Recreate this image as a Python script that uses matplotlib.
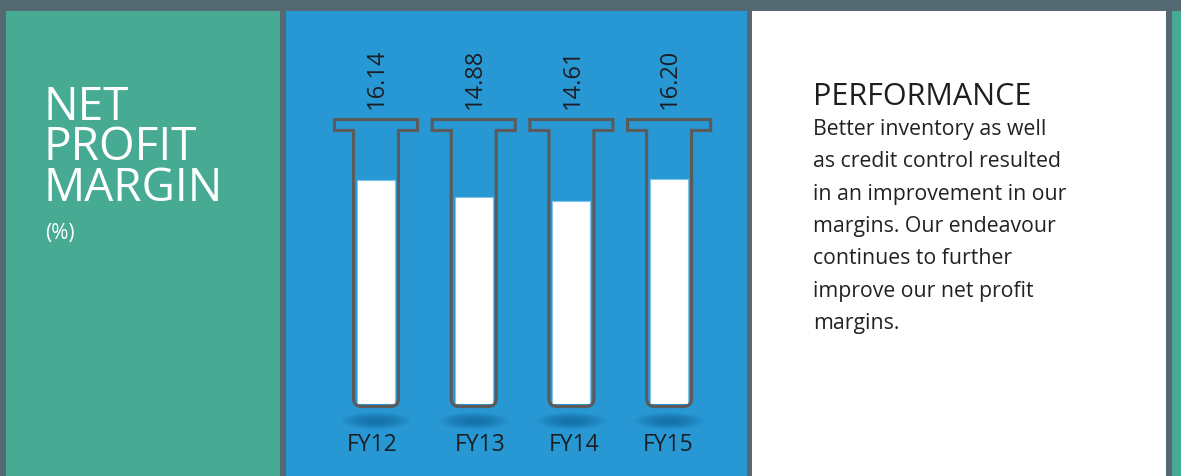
import matplotlib
matplotlib.use("Agg")
import matplotlib.pyplot as plt
from matplotlib.patches import Rectangle, Ellipse, PathPatch
from matplotlib.path import Path

# ---- data ----
categories = ["FY12", "FY13", "FY14", "FY15"]
values = [16.14, 14.88, 14.61, 16.20]
value_labels = ["16.14", "14.88", "14.61", "16.20"]
title_lines = ["NET", "PROFIT", "MARGIN"]
unit_label = "(%)"
heading = "PERFORMANCE"
body_lines = ["Better inventory as well",
              "as credit control resulted",
              "in an improvement in our",
              "margins. Our endeavour",
              "continues to further",
              "improve our net profit",
              "margins."]

# ---- style ----
FONT = ["Open Sans", "DejaVu Sans"]
GRAY = "#546971"
GREEN = "#47ab94"
BLUE = "#2898d5"
OUTLINE = "#5b5b5b"
TXT_DARK = "#1c1f22"

W, H = 1181, 476
fig = plt.figure(figsize=(W / 100, H / 100), dpi=100)
fig.patch.set_facecolor(GRAY)

bg = fig.add_axes([0, 0, 1, 1])
bg.set_xlim(0, W)
bg.set_ylim(H, 0)
bg.axis("off")
bg.set_zorder(0)

# panels
bg.add_patch(Rectangle((6, 11), 274, H - 11, color=GREEN, lw=0))
bg.add_patch(Rectangle((286, 11), 461, H - 11, color=BLUE, lw=0))
bg.add_patch(Rectangle((752, 11), 414, H - 11, color="white", lw=0))
bg.add_patch(Rectangle((1172, 11), 9, H - 11, color=GREEN, lw=0))

# left panel text
for i, t in enumerate(title_lines):
    bg.text(43, 120 + i * 40.5, t, color="white", fontsize=33, family=FONT,
            ha="left", va="baseline")
bg.text(45, 233, unit_label, color="white", fontsize=15, family=FONT,
        ha="left", va="center")

# right panel text
bg.text(813, 105, heading, color=TXT_DARK, fontsize=22, family=FONT,
        ha="left", va="baseline")
for i, t in enumerate(body_lines):
    bg.text(813, 135 + i * 32.3, t, color="#222222", fontsize=15.3,
            family=FONT, ha="left", va="baseline")

# ---- data axes for the tubes ----
spacing = 97.7
base_px = 404
top_px = 100
scale = 13.89
left_px = 376 - 0.5 * spacing
ax = fig.add_axes([left_px / W, (H - base_px) / H, 4 * spacing / W,
                   (base_px - top_px) / H])
ax.set_zorder(1)
ax.patch.set_alpha(0)
ax.set_xlim(-0.5, 3.5)
ax.set_ylim(0, (base_px - top_px) / scale)
ax.axis("off")

xs = list(range(len(categories)))
ax.bar(xs, values, width=0.39, color="white", edgecolor="#7fc3ea",
       linewidth=0.8, zorder=2)

fig.canvas.draw()
inv = bg.transData.inverted()


def tube_path(c):
    top, capb, bot = 119.5, 130.5, 406.5
    cw, sw, r = 41.5, 22.5, 8
    verts = [(c - sw, capb), (c - cw, capb), (c - cw, top), (c + cw, top),
             (c + cw, capb), (c + sw, capb), (c + sw, bot - r),
             (c + sw, bot), (c + sw - r, bot), (c - sw + r, bot),
             (c - sw, bot), (c - sw, bot - r), (c - sw, capb)]
    codes = [Path.MOVETO, Path.LINETO, Path.LINETO, Path.LINETO, Path.LINETO,
             Path.LINETO, Path.LINETO, Path.CURVE3, Path.CURVE3, Path.LINETO,
             Path.CURVE3, Path.CURVE3, Path.CLOSEPOLY]
    return Path(verts, codes)


label_dx = [-4, 6, 3, -1]
for i, x in enumerate(xs):
    disp = ax.transData.transform((x, 0))
    c = inv.transform(disp)[0]
    # soft shadow
    for k in range(12):
        f = 1 - k * 0.07
        bg.add_patch(Ellipse((c, 421), 70 * f, 17 * f, color="#0f5f8f",
                             alpha=0.07, lw=0, zorder=1))
    # tube outline
    ax.add_patch(PathPatch(tube_path(c), facecolor="none", edgecolor=OUTLINE,
                           lw=2.3, transform=bg.transData, clip_on=False,
                           zorder=3, joinstyle="miter"))
    # value label
    bg.text(c + 1, 109, value_labels[i], rotation=90, color=TXT_DARK,
            fontsize=17, family=FONT, ha="center", va="bottom", zorder=4)
    # category label
    bg.text(c + label_dx[i], 445, categories[i], color=TXT_DARK,
            fontsize=16.5, family=FONT, ha="center", va="center", zorder=4)

fig.savefig("out.png", dpi=100, facecolor=fig.get_facecolor())
